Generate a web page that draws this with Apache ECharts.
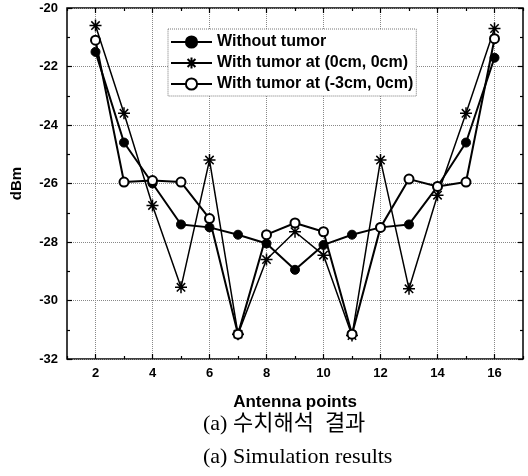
<!DOCTYPE html>
<html>
<head>
<meta charset="utf-8">
<script src="https://cdn.jsdelivr.net/npm/echarts@6/dist/echarts.min.js"></script>
<style>
html, body { margin: 0; background: #fff; }
#chart { width: 528px; height: 476px; }
</style>
</head>
<body>
<div id="chart"></div>
<script>
// antenna index on x, received power (dBm) on y
const antennaPoints = [2, 3, 4, 5, 6, 7, 8, 9, 10, 11, 12, 13, 14, 15, 16];
const withoutTumor = [-21.5, -24.6, -26.0, -27.4, -27.5, -27.75, -28.05, -28.95, -28.1, -27.75, -27.5, -27.4, -26.1, -24.6, -21.7];
const tumorCenter = [-20.6, -23.6, -26.75, -29.55, -25.2, -31.15, -28.6, -27.65, -28.45, -31.2, -25.2, -29.6, -26.4, -23.6, -20.7];
const tumorOffset = [-21.1, -25.95, -25.9, -25.95, -27.2, -31.15, -27.75, -27.35, -27.65, -31.15, -27.5, -25.85, -26.1, -25.95, -21.05];
const xMajorTicks = [2, 4, 6, 8, 10, 12, 14, 16];
const xMinorTicks = [1, 3, 5, 7, 9, 11, 13, 15, 17];

const seriesNames = ['Without tumor', 'With tumor at (0cm, 0cm)', 'With tumor at (-3cm, 0cm)'];

const sans = 'Liberation Sans, Arial, sans-serif';
const serif = '"Liberation Serif", "Noto Sans CJK KR", serif';
const starPath = 'path://M5,0 L5,10 M0,5 L10,5 M1.5,1.5 L8.5,8.5 M1.5,8.5 L8.5,1.5';

function pairs(arr) {
    return antennaPoints.map((x, i) => [x, arr[i]]);
}

let chart = echarts.init(document.getElementById('chart'));

function xAxisPart(position, ticks, len, withLabels) {
    return {
        type: 'value',
        position: position,
        min: 1,
        max: 17,
        axisLine: { show: false },
        axisTick: { show: true, inside: true, length: len, customValues: ticks, lineStyle: { color: '#000', width: 1.2 } },
        axisLabel: withLabels
            ? { show: true, customValues: ticks, color: '#000', fontWeight: 'bold', fontSize: 13, fontFamily: sans, margin: 8 }
            : { show: false },
        splitLine: withLabels && position === 'bottom'
            ? { show: true, lineStyle: { type: 'dotted', color: '#888', width: 1 } }
            : { show: false }
    };
}

function yAxisPart(position, withLabels) {
    return {
        type: 'value',
        position: position,
        min: -32,
        max: -20,
        interval: 2,
        axisLine: { show: false },
        axisTick: { show: true, inside: true, length: 5, lineStyle: { color: '#000', width: 1.2 } },
        minorTick: { show: true, splitNumber: 2, length: 3, lineStyle: { color: '#000', width: 1.2 } },
        axisLabel: withLabels
            ? { show: true, color: '#000', fontWeight: 'bold', fontSize: 13, fontFamily: sans, margin: 9 }
            : { show: false },
        splitLine: withLabels
            ? { show: true, lineStyle: { type: 'dotted', color: '#888', width: 1 } }
            : { show: false },
        name: withLabels ? 'dBm' : '',
        nameLocation: 'middle',
        nameGap: 43,
        nameTextStyle: { color: '#000', fontWeight: 'bold', fontSize: 15, fontFamily: sans }
    };
}

function lineSeries(name, data, symbol, size, itemStyle, width) {
    return {
        name: name,
        type: 'line',
        xAxisIndex: 0,
        yAxisIndex: 0,
        data: pairs(data),
        symbol: symbol,
        symbolSize: size,
        showAllSymbol: true,
        lineStyle: { color: '#000', width: width },
        itemStyle: itemStyle,
        emphasis: { disabled: true },
        animation: false
    };
}

let option = {
    backgroundColor: '#fff',
    animation: false,
    grid: {
        left: 67, right: 5, top: 8, bottom: 117,
        show: true, borderColor: '#000', borderWidth: 1.5, backgroundColor: 'transparent'
    },
    xAxis: [
        xAxisPart('bottom', xMajorTicks, 5, true),
        xAxisPart('bottom', xMinorTicks, 3, false),
        xAxisPart('top', xMajorTicks, 5, false),
        xAxisPart('top', xMinorTicks, 3, false)
    ],
    yAxis: [
        yAxisPart('left', true),
        yAxisPart('right', false)
    ],
    legend: {
        orient: 'vertical',
        left: 168,
        top: 29,
        padding: [5, 3, 4, 2],
        itemWidth: 41,
        itemHeight: 14,
        itemGap: 5,
        itemTextGap: 7,
        backgroundColor: '#fff',
        borderColor: '#777',
        borderWidth: 1,
        borderType: 'dotted',
        data: seriesNames,
        textStyle: { color: '#000', fontWeight: 'bold', fontSize: 16, fontFamily: sans }
    },
    graphic: [
        { type: 'text', x: 295, y: 402, style: { text: 'Antenna points', font: 'bold 17px ' + sans, fill: '#000', textAlign: 'center', textVerticalAlign: 'middle' } },
        { type: 'text', x: 203, y: 424, style: { text: '(a) 수치해석  결과', font: '22px ' + serif, fill: '#000', textAlign: 'left', textVerticalAlign: 'middle' } },
        { type: 'text', x: 203, y: 457, style: { text: '(a) Simulation results', font: '22px ' + serif, fill: '#000', textAlign: 'left', textVerticalAlign: 'middle' } }
    ],
    series: [
        lineSeries(seriesNames[0], withoutTumor, 'circle', 9, { color: '#000', borderColor: '#000', borderWidth: 1 }, 2),
        lineSeries(seriesNames[1], tumorCenter, starPath, 12, { color: 'transparent', borderColor: '#000', borderWidth: 1.5 }, 1.5),
        lineSeries(seriesNames[2], tumorOffset, 'circle', 9, { color: '#fff', borderColor: '#000', borderWidth: 2 }, 2)
    ]
};
chart.setOption(option);
</script>
</body>
</html>
